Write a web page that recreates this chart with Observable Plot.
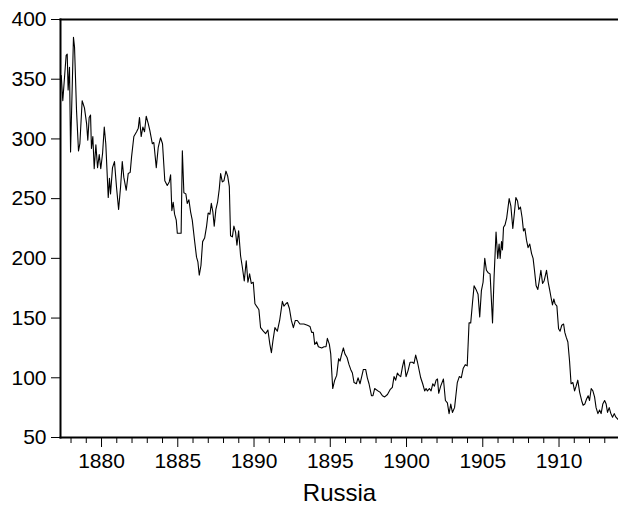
<!DOCTYPE html>
<html><head><meta charset="utf-8">
<script src="https://cdn.jsdelivr.net/npm/d3@7"></script>
<script src="https://cdn.jsdelivr.net/npm/@observablehq/plot@0.6"></script>
<style>body{margin:0;background:#fff}</style>
</head><body><div id="chart"></div>
<script>
const years = [1877.36,1877.46,1877.68,1877.75,1877.81,1877.90,1877.97,1878.16,1878.23,1878.36,1878.49,1878.58,1878.73,1878.88,1879.02,1879.10,1879.19,1879.28,1879.34,1879.43,1879.52,1879.63,1879.74,1879.85,1879.95,1880.07,1880.18,1880.28,1880.44,1880.52,1880.59,1880.72,1880.85,1880.98,1881.12,1881.25,1881.36,1881.46,1881.62,1881.75,1881.88,1881.97,1882.12,1882.30,1882.41,1882.49,1882.60,1882.71,1882.82,1882.93,1883.06,1883.17,1883.33,1883.43,1883.59,1883.72,1883.87,1884.00,1884.15,1884.31,1884.44,1884.53,1884.61,1884.70,1884.79,1884.90,1884.97,1885.12,1885.22,1885.30,1885.40,1885.53,1885.62,1885.73,1885.84,1885.95,1886.10,1886.23,1886.32,1886.41,1886.52,1886.63,1886.76,1886.89,1886.99,1887.11,1887.20,1887.30,1887.39,1887.50,1887.61,1887.72,1887.81,1887.92,1888.03,1888.16,1888.27,1888.38,1888.46,1888.58,1888.68,1888.79,1888.88,1888.99,1889.12,1889.23,1889.36,1889.49,1889.60,1889.71,1889.82,1889.95,1890.06,1890.22,1890.32,1890.43,1890.61,1890.76,1890.91,1891.04,1891.14,1891.24,1891.37,1891.53,1891.68,1891.86,1891.96,1892.09,1892.19,1892.32,1892.45,1892.58,1892.71,1892.84,1893.01,1893.27,1893.50,1893.67,1893.78,1893.89,1893.98,1894.11,1894.22,1894.44,1894.59,1894.72,1894.81,1894.94,1895.03,1895.16,1895.29,1895.42,1895.55,1895.64,1895.73,1895.86,1895.96,1896.10,1896.23,1896.34,1896.45,1896.56,1896.71,1896.82,1896.95,1897.17,1897.32,1897.43,1897.54,1897.70,1897.80,1897.91,1898.02,1898.13,1898.26,1898.42,1898.57,1898.75,1898.92,1899.07,1899.18,1899.29,1899.40,1899.51,1899.62,1899.73,1899.84,1899.97,1900.10,1900.23,1900.39,1900.49,1900.60,1900.72,1900.93,1901.06,1901.19,1901.28,1901.37,1901.50,1901.61,1901.72,1901.83,1901.94,1902.03,1902.11,1902.24,1902.42,1902.55,1902.68,1902.79,1902.90,1903.01,1903.15,1903.33,1903.46,1903.59,1903.72,1903.85,1903.98,1904.10,1904.21,1904.32,1904.43,1904.59,1904.69,1904.80,1904.91,1905.02,1905.13,1905.24,1905.35,1905.48,1905.64,1905.74,1905.87,1905.98,1906.07,1906.14,1906.23,1906.29,1906.36,1906.46,1906.57,1906.73,1906.84,1906.97,1907.08,1907.17,1907.28,1907.36,1907.47,1907.58,1907.67,1907.76,1907.87,1907.97,1908.08,1908.20,1908.30,1908.39,1908.50,1908.61,1908.69,1908.81,1908.92,1909.02,1909.18,1909.29,1909.38,1909.48,1909.57,1909.66,1909.74,1909.86,1909.97,1910.07,1910.18,1910.30,1910.38,1910.47,1910.58,1910.69,1910.79,1910.91,1911.02,1911.12,1911.23,1911.35,1911.48,1911.58,1911.69,1911.80,1911.91,1912.00,1912.11,1912.22,1912.33,1912.43,1912.55,1912.66,1912.76,1912.87,1912.99,1913.09,1913.18,1913.29,1913.40,1913.51,1913.62,1913.73,1913.88];
const prices = [353,332,370,371,341,360,289,385,377,324,290,296,332,326,313,299,318,320,292,302,275,295,276,287,275,288,310,296,251,267,254,276,281,260,241,260,281,268,257,271,272,285,302,306,309,318,302,310,306,319,313,307,296,297,276,293,301,296,265,261,264,270,240,247,237,232,221,221,221,290,255,254,246,249,239,232,215,201,197,186,194,214,217,227,238,237,246,239,227,241,247,258,271,264,265,273,269,260,219,218,227,222,211,223,202,193,181,198,180,187,179,180,162,159,157,142,139,137,140,128,121,131,142,139,148,164,160,162,163,158,148,142,148,148,145,145,144,143,138,138,128,130,126,125,126,126,133,128,120,91,98,102,116,114,119,125,120,117,111,107,104,96,95,100,95,107,107,100,95,85,85,91,90,89,88,85,84,86,90,92,101,98,104,102,101,109,115,101,106,113,113,112,119,113,100,95,89,91,89,91,89,95,93,98,99,87,93,99,81,79,70,78,71,75,96,101,100,108,111,110,146,146,162,177,173,170,151,173,180,200,190,188,187,146,184,222,200,212,200,214,207,226,228,234,250,244,225,239,251,248,241,243,234,223,225,215,209,212,204,200,190,177,174,180,190,179,181,190,180,174,167,161,166,162,160,141,139,144,145,138,134,130,114,95,96,89,93,98,88,81,77,78,82,85,81,91,89,84,75,70,73,70,78,81,78,71,75,70,67,70,67,65];
const yTickValues = [50,100,150,200,250,300,350,400];
const majorYears = [1880,1885,1890,1895,1900,1905,1910];
const minorYears = [1878,1879,1881,1882,1883,1884,1886,1887,1888,1889,1891,1892,1893,1894,1896,1897,1898,1899,1901,1902,1903,1904,1906,1907,1908,1909,1911,1912,1913];
const xDomain = [1877.31, 1913.9];
const yDomain = [50, 400];
const seriesLabel = "Russia";

const data = years.map((t, i) => ({t, v: prices[i]}));

const chart = Plot.plot({
  width: 618,
  height: 518,
  marginLeft: 60,
  marginRight: 0,
  marginTop: 19,
  marginBottom: 81,
  style: {fontFamily: "'Liberation Sans', Arial, sans-serif", fontSize: "21px", background: "#fff", color: "#000"},
  x: {domain: xDomain},
  y: {domain: yDomain},
  marks: [
    Plot.axisY({ticks: yTickValues, tickSize: 9, tickPadding: 5, label: null, fontSize: 21}),
    Plot.axisX({ticks: minorYears, tickSize: 6, tickFormat: () => "", label: null}),
    Plot.axisX({ticks: majorYears, tickSize: 10, tickPadding: 6, tickFormat: d => String(d), fontSize: 21, label: null}),
    Plot.text([seriesLabel], {frameAnchor: "bottom", dy: 63, fontSize: 24, fill: "#000", lineAnchor: "bottom"}),
    Plot.line(data, {x: "t", y: "v", stroke: "#000", strokeWidth: 1.1}),
    Plot.frame({anchor: "top", stroke: "#000", strokeWidth: 2}),
    Plot.frame({anchor: "left", stroke: "#000", strokeWidth: 2}),
    Plot.frame({anchor: "bottom", stroke: "#000", strokeWidth: 2})
  ]
});
document.getElementById("chart").appendChild(chart);
</script>
</body></html>
